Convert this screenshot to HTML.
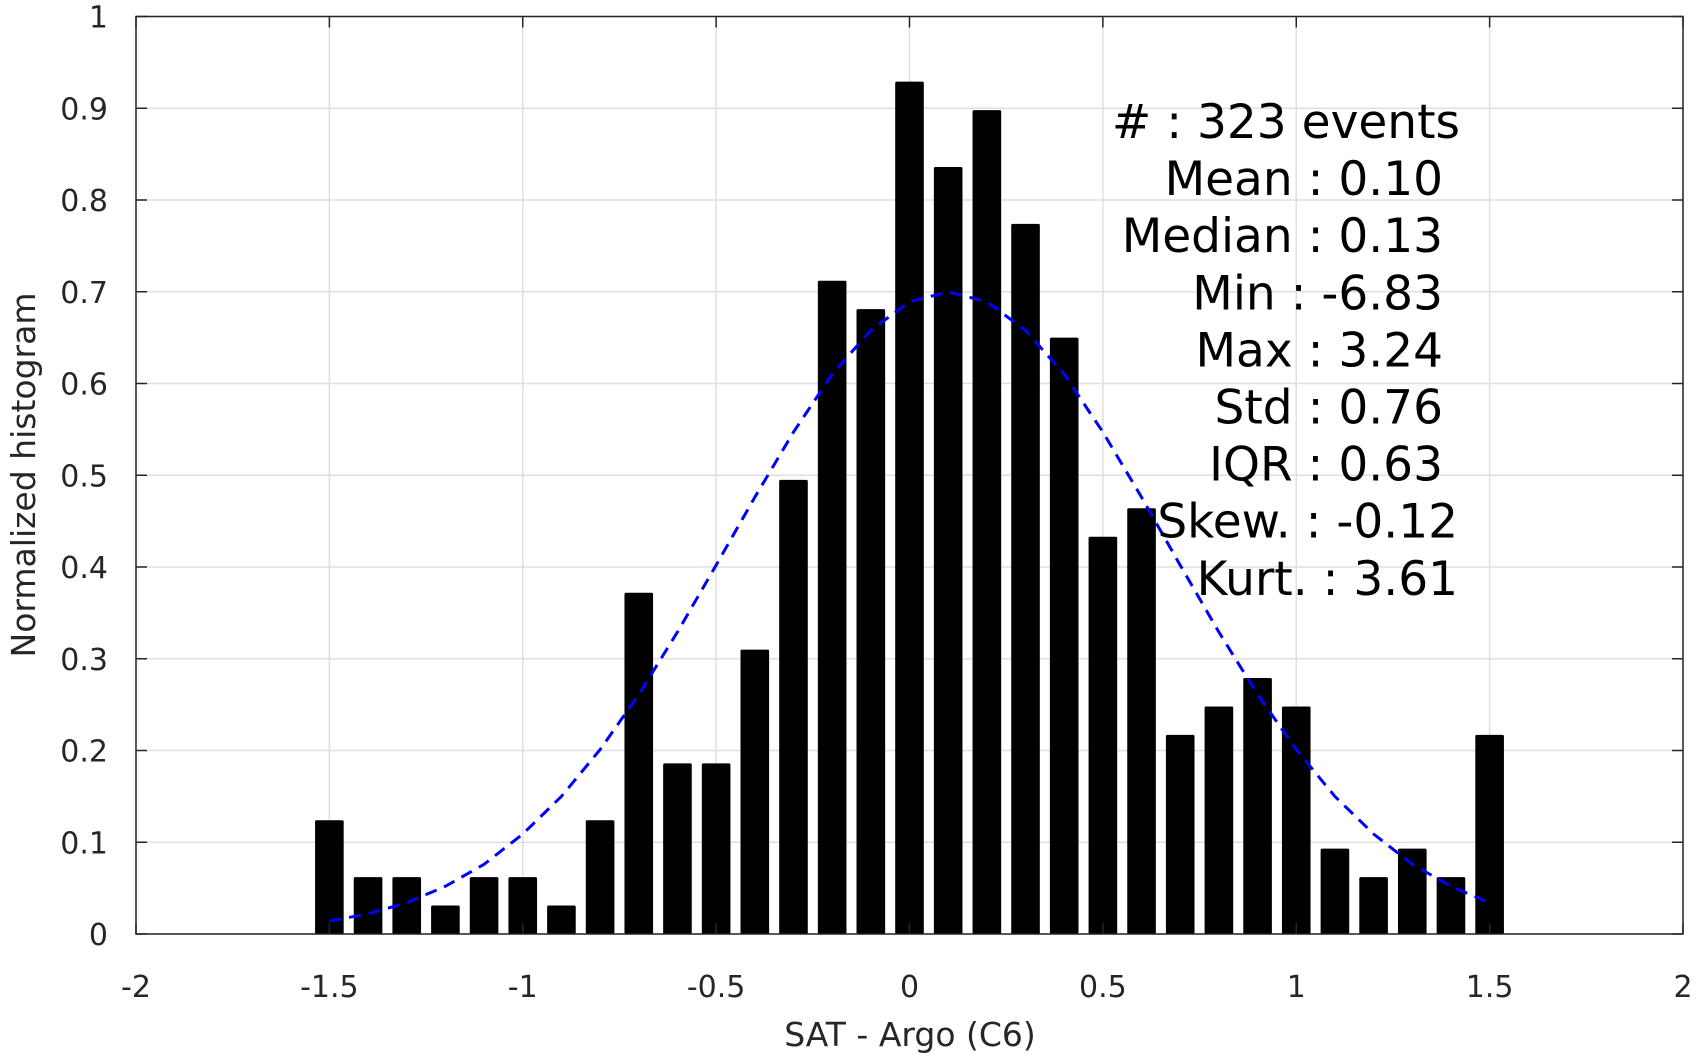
<!DOCTYPE html>
<html><head><meta charset="utf-8"><style>
html,body{margin:0;padding:0;background:#fff}
svg{display:block;font-family:"DejaVu Sans","Liberation Sans",sans-serif}
</style></head><body>
<svg id="chart" width="1703" height="1056" viewBox="0 0 1703 1056" xmlns="http://www.w3.org/2000/svg">
<g id="grid"></g>
<g id="bars"></g>
<g id="curve"></g>
<g id="axes"></g>
<g id="stats"></g>
<text x="910" y="1046" font-size="33" fill="#262626" text-anchor="middle">SAT - Argo (C6)</text>
<text transform="translate(35,475) rotate(-90)" font-size="33" fill="#262626" text-anchor="middle">Normalized histogram</text>
</svg>
<script>
const binCenters=[-1.5,-1.4,-1.3,-1.2,-1.1,-1.0,-0.9,-0.8,-0.7,-0.6,-0.5,-0.4,-0.3,-0.2,-0.1,0,0.1,0.2,0.3,0.4,0.5,0.6,0.7,0.8,0.9,1.0,1.1,1.2,1.3,1.4,1.5];
const binValues=[0.124,0.062,0.062,0.031,0.062,0.062,0.031,0.124,0.372,0.186,0.186,0.31,0.495,0.712,0.681,0.929,0.836,0.898,0.774,0.65,0.433,0.464,0.217,0.248,0.279,0.248,0.093,0.062,0.093,0.062,0.217];
const curveX=binCenters;
const curveY=[0.014,0.022,0.034,0.052,0.076,0.109,0.150,0.201,0.261,0.329,0.402,0.476,0.547,0.610,0.658,0.689,0.700,0.689,0.658,0.610,0.547,0.476,0.402,0.329,0.261,0.201,0.150,0.109,0.076,0.052,0.034];
const xTicks=[-2,-1.5,-1,-0.5,0,0.5,1,1.5,2];
const xTickLabels=["-2","-1.5","-1","-0.5","0","0.5","1","1.5","2"];
const yTicks=[0,0.1,0.2,0.3,0.4,0.5,0.6,0.7,0.8,0.9,1];
const yTickLabels=["0","0.1","0.2","0.3","0.4","0.5","0.6","0.7","0.8","0.9","1"];
const statLabels=["#  : 323 events","Mean : 0.10","Median : 0.13","Min : -6.83","Max : 3.24","Std : 0.76","IQR : 0.63","Skew. : -0.12","Kurt. : 3.61"];
const statRight=[1460,1443,1443,1443,1443,1443,1443,1458,1458];

const L=136,R=1683,T=16.5,B=934;
const sx=v=>L+(v+2)/4*(R-L);
const sy=v=>B-v*(B-T);
const NS="http://www.w3.org/2000/svg";
function mk(tag,parent,attrs){const e=document.createElementNS(NS,tag);for(const k in attrs)e.setAttribute(k,attrs[k]);parent.appendChild(e);return e;}
const grid=document.getElementById('grid'),bars=document.getElementById('bars'),curve=document.getElementById('curve'),axes=document.getElementById('axes'),stats=document.getElementById('stats');

xTicks.forEach((t,i)=>{
  const g=mk('line',grid,{x1:sx(t),x2:sx(t),y1:T,y2:B,stroke:'#dfdfdf','stroke-width':1.5});
  
  
  const a=mk('line',axes,{x1:sx(t),x2:sx(t),y1:B,y2:B-11,stroke:'#262626','stroke-width':1.5});
  
  
  const b=mk('line',axes,{x1:sx(t),x2:sx(t),y1:T,y2:T+11,stroke:'#262626','stroke-width':1.5});
  
  
  const tx=mk('text',axes,{x:sx(t),y:997,'font-size':30,fill:'#262626','text-anchor':'middle'});
  tx.textContent=xTickLabels[i];
  
  
});
yTicks.forEach((t,i)=>{
  const g=mk('line',grid,{x1:L,x2:R,y1:sy(t),y2:sy(t),stroke:'#dfdfdf','stroke-width':1.5});
  
  
  const a=mk('line',axes,{x1:L,x2:L+11,y1:sy(t),y2:sy(t),stroke:'#262626','stroke-width':1.5});
  
  
  const b=mk('line',axes,{x1:R,x2:R-11,y1:sy(t),y2:sy(t),stroke:'#262626','stroke-width':1.5});
  
  
  const tx=mk('text',axes,{x:108,y:sy(t)+11,'font-size':30,fill:'#262626','text-anchor':'end'});
  tx.textContent=yTickLabels[i];
  
  
});
const box=mk('rect',axes,{x:L,y:T,width:R-L,height:B-T,fill:'none',stroke:'#262626','stroke-width':1.5});



const bw=0.074;
binCenters.forEach((c,i)=>{
  const r=mk('rect',bars,{x:sx(c-bw/2),y:sy(binValues[i]),width:sx(c+bw/2)-sx(c-bw/2),height:B-sy(binValues[i]),fill:'#000',rx:1.5});
  
  
});
const pts=curveX.map((x,i)=>sx(x).toFixed(1)+','+sy(curveY[i]).toFixed(1)).join(' ');
const pl=mk('polyline',curve,{points:pts,fill:'none',stroke:'#0000ff','stroke-width':3,'stroke-dasharray':'12,8'});



statLabels.forEach((s,i)=>{
  const t=mk('text',stats,{x:statRight[i],y:138+57.1*i,'font-size':47,fill:'#000','text-anchor':'end','xml:space':'preserve'});
  t.textContent=s;
  
  
});
</script>
</body></html>
